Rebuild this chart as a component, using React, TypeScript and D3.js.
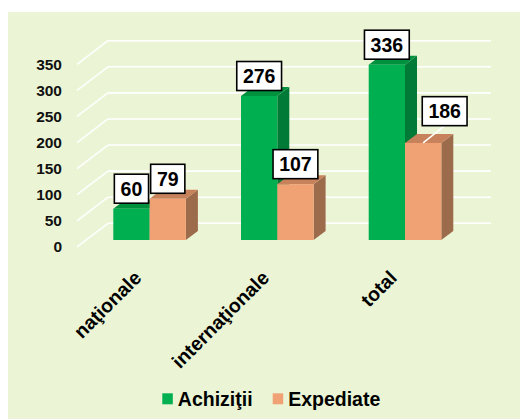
import React from "react";
import * as d3 from "d3";

const categories = ["naţionale", "internaţionale", "total"];
const seriesNames = ["Achiziţii", "Expediate"];
const achizitii = [60, 276, 336];
const expediate = [79, 107, 186];
const yTicks = [0, 50, 100, 150, 200, 250, 300, 350];

const faceColors = [
  { front: "#00B050", top: "#00913F", side: "#007A36" },
  { front: "#F0A274", top: "#C7825C", side: "#9C6B4B" },
];

const W = 520;
const H = 419;
const depth = { dx: 12, dy: -9 };
const wallDepth = { dx: 31, dy: -23.6 };
const barBase = 240;

export default function App() {
  const series = [achizitii, expediate];

  // back wall scale
  const y = d3.scaleLinear().domain([0, 350]).range([223.3, 40.7]);
  const barH = (v: number) => y(0) - y(v);

  const x = d3
    .scaleBand<string>()
    .domain(categories)
    .range([49.45, 505.15])
    .paddingInner(0.4315)
    .paddingOuter(0.5);
  const xs = d3
    .scaleBand<number>()
    .domain([0, 1])
    .range([0, x.bandwidth()]);

  const wallLeft = 108;
  const wallRight = 491;

  const bars: JSX.Element[] = [];
  const labels: JSX.Element[] = [];

  categories.forEach((c, ci) => {
    series.forEach((s, si) => {
      const v = s[ci];
      const bx = (x(c) as number) + (xs(si) as number);
      const bw = xs.bandwidth();
      const top = barBase - barH(v);
      const col = faceColors[si];
      const { dx, dy } = depth;
      bars.push(
        <g key={`b${ci}-${si}`}>
          <polygon
            points={`${bx + bw},${top} ${bx + bw + dx},${top + dy} ${bx + bw + dx},${barBase + dy} ${bx + bw},${barBase}`}
            fill={col.side}
          />
          <polygon
            points={`${bx},${top} ${bx + dx},${top + dy} ${bx + bw + dx},${top + dy} ${bx + bw},${top}`}
            fill={col.top}
          />
          <rect x={bx} y={top} width={bw} height={barBase - top} fill={col.front} />
        </g>
      );

      const txt = String(v);
      const boxW = txt.length * 10.6 + 13;
      const boxH = 29;
      const moved = si === 1 && ci === 2;
      const cx = bx + bw / 2 + (moved ? 21.5 : 0);
      const bottom = top - (moved ? 17.3 : 5.5);
      labels.push(
        <g key={`l${ci}-${si}`}>
          {moved && (
            <line
              x1={bx + bw / 2}
              y1={top}
              x2={cx}
              y2={bottom}
              stroke="#FFFFFF"
              strokeWidth={1.6}
            />
          )}
          <rect
            x={cx - boxW / 2}
            y={bottom - boxH}
            width={boxW}
            height={boxH}
            fill="#FFFFFF"
            stroke="#000000"
            strokeWidth={1.6}
          />
          <text
            x={cx}
            y={bottom - boxH / 2 + 7}
            textAnchor="middle"
            fontFamily="'Liberation Sans', Arial, sans-serif"
            fontWeight="bold"
            fontSize={19.5}
            fill="#000"
          >
            {txt}
          </text>
        </g>
      );
    });
  });

  return (
    <svg width={W} height={H} style={{ display: "block", position: "absolute", left: 0, top: 0 }}>
      <rect x={8} y={12} width={W - 8} height={H - 12} fill="#EBF5D5" />
      <g stroke="#FFFFFF" strokeWidth={1.6} fill="none">
        {yTicks.map((t) => (
          <g key={t}>
            <line x1={wallLeft} x2={wallRight} y1={y(t)} y2={y(t)} />
            <line
              x1={wallLeft - wallDepth.dx}
              y1={y(t) - wallDepth.dy}
              x2={wallLeft}
              y2={y(t)}
            />
          </g>
        ))}
      </g>
      <g fontFamily="'Liberation Sans', Arial, sans-serif" fontSize={15.5} fontWeight="bold" fill="#111">
        {yTicks.map((t) => (
          <text key={t} x={62} y={y(t) - wallDepth.dy} dy="0.36em" textAnchor="end">
            {t}
          </text>
        ))}
      </g>
      {bars}
      {labels}
      <g fontFamily="'Liberation Sans', Arial, sans-serif" fontSize={19.5} fontWeight="bold" fill="#000">
        {categories.map((c) => {
          const ax = (x(c) as number) + x.bandwidth() / 2 - 7;
          const ay = 279;
          return (
            <text key={c} x={ax} y={ay} textAnchor="end" transform={`rotate(-45, ${ax}, ${ay})`}>
              {c}
            </text>
          );
        })}
      </g>
      <g fontFamily="'Liberation Sans', Arial, sans-serif" fontSize={19.5} fontWeight="bold" fill="#000">
        {seriesNames.map((n, i) => {
          const lx = [162.3, 272.7][i];
          return (
            <g key={n}>
              <rect x={lx} y={393.3} width={10.5} height={11} fill={faceColors[i].front} />
              <text x={lx + 15.5} y={405.5}>
                {n}
              </text>
            </g>
          );
        })}
      </g>
    </svg>
  );
}
